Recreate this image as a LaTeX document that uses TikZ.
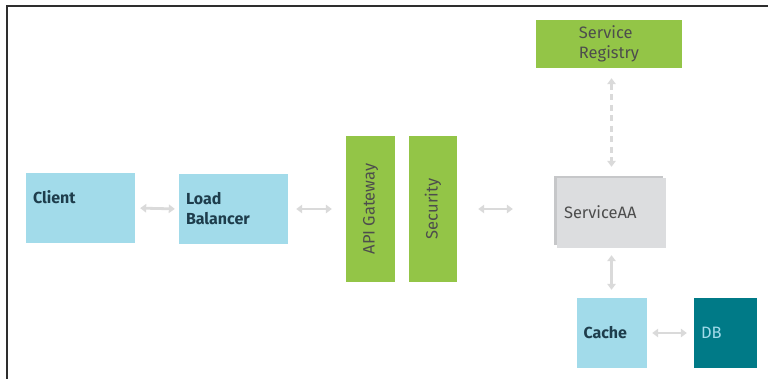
\documentclass[tikz,border=0pt]{standalone}
\usepackage{fontspec}
\setmainfont{Fira Sans}
\usetikzlibrary{arrows.meta}
\definecolor{boxblue}{HTML}{A2DBEA}
\definecolor{boxgreen}{HTML}{93C547}
\definecolor{boxteal}{HTML}{007A87}
\definecolor{boxgray}{HTML}{DCDDDF}
\definecolor{shadowgray}{HTML}{C6C7C9}
\definecolor{linkgray}{HTML}{DADADA}
\definecolor{darkteal}{HTML}{1E3D4C}
\definecolor{darktext}{HTML}{4D4D4D}
\definecolor{framecol}{HTML}{2E2E2E}
\tikzstyle{basebox} = [rectangle, inner sep=0pt, inner xsep=7pt,
    font=\fontsize{16.5}{20}\selectfont]
\tikzstyle{bluebox} = [basebox, fill=boxblue, text=darkteal, font=\fontsize{16}{20}\selectfont\bfseries]
\tikzstyle{greenbox} = [basebox, fill=boxgreen, text=darktext]
\tikzstyle{link} = [draw=linkgray, line width=2.8pt,
    {Triangle[width=8.5pt,length=6pt]}-{Triangle[width=8.5pt,length=6pt]}]

\begin{document}
\begin{tikzpicture}[x=1pt, y=-1pt]
    \useasboundingbox (0,0) rectangle (768,379);
    \draw[framecol, line width=1.3pt] (7,379) -- (7,6) -- (768,6);

    % left side
    \node[bluebox, minimum width=109pt, minimum height=70pt, text width=95pt, align=left,
          text height=11.5pt, text depth=19.5pt] (client) at (80.5,208) {Client};
    \node[bluebox, minimum width=109pt, minimum height=70pt, text width=95pt, align=left]
          (balancer) at (233.5,209) {Load\\Balancer};

    % gateway column
    \node[greenbox, minimum width=146pt, minimum height=49pt, rotate=90]
          (gateway) at (370.5,209) {API Gateway};
    \node[greenbox, minimum width=146pt, minimum height=48pt, rotate=90]
          (security) at (433,209) {Security};

    % services
    \node[greenbox, minimum width=146pt, minimum height=48pt, align=left]
          (registry) at (609,44) {Service\\Registry};
    \node[basebox, fill=shadowgray, minimum width=109pt, minimum height=69pt]
          (serviceback) at (608.5,210.5) {};
    \node[basebox, fill=boxgray, text=darktext, minimum width=109pt, minimum height=70pt,
          text width=95pt, align=left, text height=11.5pt, text depth=0pt]
          (service) at (611.5,213) {ServiceAA};
    \node[bluebox, minimum width=70pt, minimum height=70pt, text width=57pt, align=left,
          text height=11.5pt, text depth=0pt, inner xsep=6pt] (cache) at (612,333) {Cache};
    \node[basebox, fill=boxteal, text=boxblue, minimum width=63pt, minimum height=70pt,
          text width=49pt, align=left, text height=11.5pt, text depth=0pt]
          (db) at (725.5,333) {DB};

    % connectors
    \draw[link, shorten <=5pt, shorten >=4pt] (client.east) -- (balancer.west);
    \draw[link, shorten <=8pt, shorten >=14pt] (balancer.east) -- (gateway.north);
    \draw[link, shorten <=21pt, shorten >=44pt] (security.south) -- (security.south -| service.west);
    \draw[link, dash pattern=on 6pt off 4.5pt, shorten <=10pt, shorten >=11pt]
          (service.north |- registry.south) -- (service.north);
    \draw[link, shorten <=7pt, shorten >=8pt] (service.south) -- (service.south |- cache.north);
    \draw[link, shorten <=5pt, shorten >=7pt] (cache.east) -- (db.west);
\end{tikzpicture}
\end{document}
